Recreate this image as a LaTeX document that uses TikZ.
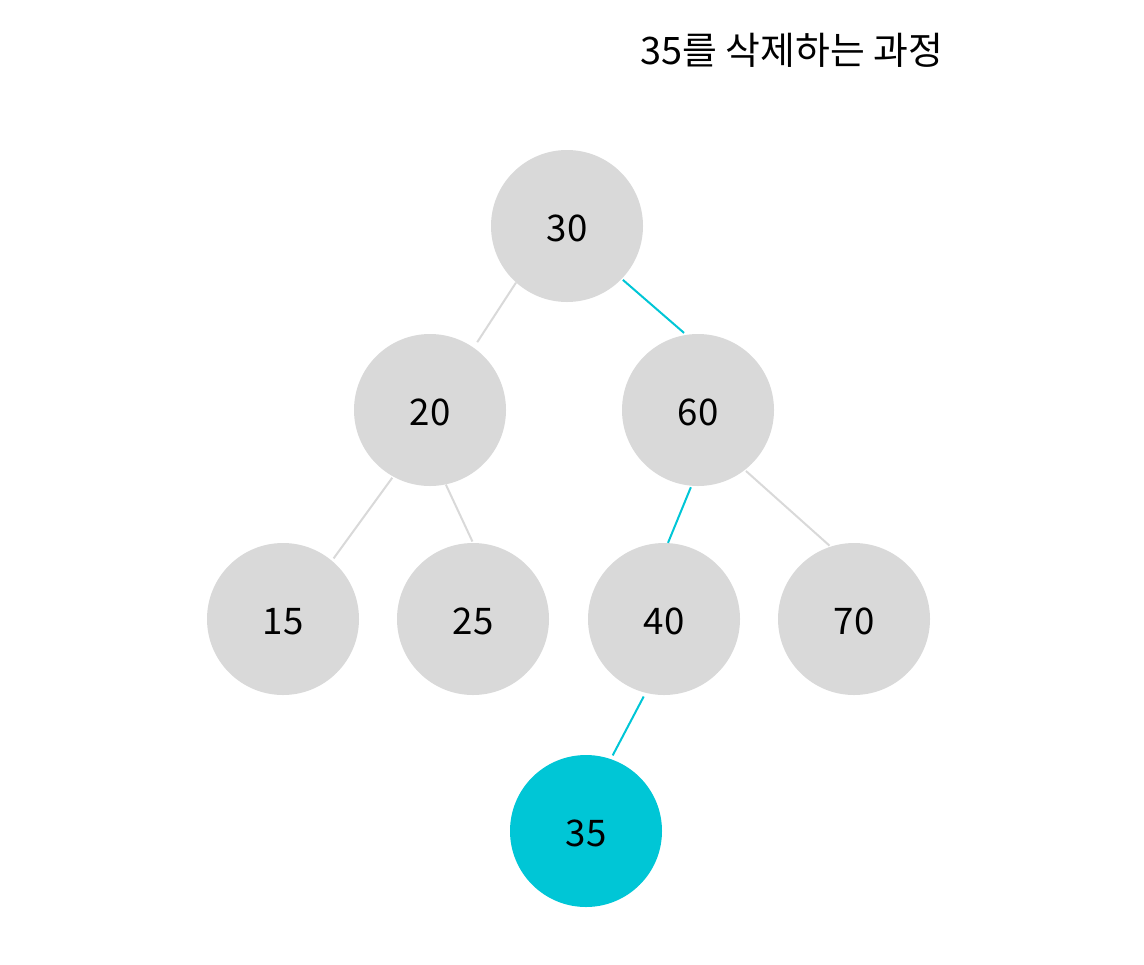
\documentclass[tikz,border=0pt]{standalone}
\usepackage{fontspec}
\setmainfont{Noto Sans CJK KR}
\definecolor{nodegray}{HTML}{D9D9D9}
\definecolor{hicyan}{HTML}{00C6D6}
\begin{document}
\begin{tikzpicture}[x=0.75pt,y=-0.75pt,
  tnode/.style={circle,fill=nodegray,minimum size=114pt,inner sep=0pt,
    font=\fontsize{27.5}{32}\selectfont,text height=23pt,text depth=0pt},
  hnode/.style={tnode,fill=hicyan},
  edge/.style={draw=nodegray,line width=1.5pt},
  hedge/.style={draw=hicyan,line width=1.5pt}]
\useasboundingbox (0,0) rectangle (1144,964);
\node[font=\fontsize{28.4}{33}\selectfont] (title) at (792,50) {35를 삭제하는 과정};
\node[tnode] (n30) at (567,226) {30};
\node[tnode] (n20) at (430,410) {20};
\node[tnode] (n60) at (698,410) {60};
\node[tnode] (n15) at (283,619) {15};
\node[tnode] (n25) at (473,619) {25};
\node[tnode] (n40) at (664,619) {40};
\node[tnode] (n70) at (854,619) {70};
\node[hnode] (n35) at (586,831) {35};
\draw[edge,shorten >=4.8pt] (n30.228) -- (n20.55);
\draw[hedge,shorten <=1pt,shorten >=2pt] (n30.316.6) -- (n60.99.5);
\draw[edge,shorten <=1pt,shorten >=2pt] (n20.241.7) -- (n15.50.4);
\draw[edge,shorten >=1pt] (n20.282.6) -- (n25.90);
\draw[hedge,shorten <=1pt] (n60.265.3) -- (n40.87.5);
\draw[edge,shorten <=1pt,shorten >=1pt] (n60.308.3) -- (n70.108.6);
\draw[hedge,shorten <=3pt,shorten >=3pt] (n40.256.3) -- (n35.71.8);
\end{tikzpicture}
\end{document}
